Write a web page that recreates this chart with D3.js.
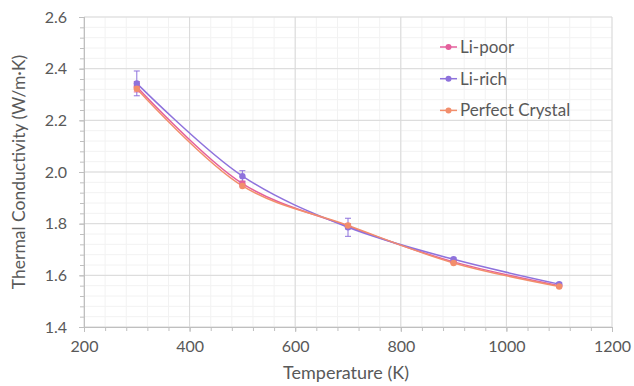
<!DOCTYPE html>
<html>
<head>
<meta charset="utf-8">
<script src="https://cdn.jsdelivr.net/npm/d3@7"></script>
<style>
  body { margin: 0; background: #fff; }
  text { font-family: Lato, Carlito, "Liberation Sans", Arial, sans-serif; fill: #595959; }
</style>
</head>
<body>
<div id="chart"></div>
<script>
// data
var temps = [300, 500, 700, 900, 1100];
var liPoor = [2.330, 1.955, 1.790, 1.652, 1.560];
var liRich = [2.343, 1.984, 1.786, 1.662, 1.566];
var perfect = [2.322, 1.946, 1.793, 1.648, 1.557];
var liPoorErr = [0.02, 0.01, 0.01, 0.004, 0.004];
var liRichErr = [0.048, 0.021, 0.035, 0.005, 0.005];
var perfectErr = [0, 0, 0, 0, 0];
var xTicks = [200, 400, 600, 800, 1000, 1200];
var yTicks = [1.4, 1.6, 1.8, 2.0, 2.2, 2.4, 2.6];

var series = [
  {name: "Li-poor", values: liPoor, err: liPoorErr, color: "#e45f9c"},
  {name: "Li-rich", values: liRich, err: liRichErr, color: "#8e72dc"},
  {name: "Perfect Crystal", values: perfect, err: perfectErr, color: "#f28e6c"}
];

var margin = {top: 17, right: 22, bottom: 59, left: 84},
    width = 634 - margin.left - margin.right,
    height = 386 - margin.top - margin.bottom;

var svg = d3.select("#chart").append("svg")
    .attr("width", 634)
    .attr("height", 386);

var g = svg.append("g")
    .attr("transform", "translate(" + margin.left + "," + margin.top + ")");

var x = d3.scaleLinear().domain([200, 1200]).range([0, width]);
var y = d3.scaleLinear().domain([1.4, 2.6]).range([height, 0]);

// minor grid
var xMinor = d3.range(200, 1201, 40);
var yMinor = d3.range(0, 31).map(function (i) { return 1.4 + i * 0.04; });
g.selectAll(".xminor").data(xMinor).enter().append("line")
    .attr("x1", d => x(d)).attr("x2", d => x(d))
    .attr("y1", 0).attr("y2", height)
    .attr("stroke", "#f2f2f2");
g.selectAll(".yminor").data(yMinor).enter().append("line")
    .attr("y1", d => y(d)).attr("y2", d => y(d))
    .attr("x1", 0).attr("x2", width)
    .attr("stroke", "#f2f2f2");
// major grid
g.selectAll(".xmajor").data(xTicks).enter().append("line")
    .attr("x1", d => x(d)).attr("x2", d => x(d))
    .attr("y1", 0).attr("y2", height)
    .attr("stroke", "#d9d9d9");
g.selectAll(".ymajor").data(yTicks).enter().append("line")
    .attr("y1", d => y(d)).attr("y2", d => y(d))
    .attr("x1", 0).attr("x2", width)
    .attr("stroke", "#d9d9d9");

// axes
var xAxis = g.append("g")
    .attr("transform", "translate(0," + height + ")")
    .call(d3.axisBottom(x).tickValues(xTicks).tickSize(5).tickPadding(9).tickFormat(d3.format("d")));
var xAxisMinor = g.append("g")
    .attr("transform", "translate(0," + height + ")")
    .call(d3.axisBottom(x).tickValues(xMinor).tickSize(4).tickFormat(""));
var yAxis = g.append("g")
    .call(d3.axisLeft(y).tickValues(yTicks).tickSize(5).tickPadding(12).tickFormat(d3.format(".1f")));
var yAxisMinor = g.append("g")
    .call(d3.axisLeft(y).tickValues(yMinor).tickSize(4).tickFormat(""));

[xAxis, xAxisMinor, yAxis, yAxisMinor].forEach(function (a) {
  a.select(".domain").attr("stroke", "#bfbfbf");
  a.selectAll(".tick line").attr("stroke", "#bfbfbf");
  a.selectAll("text").style("font-size", "16px").attr("fill", "#595959")
      .style("font-family", "Lato, Carlito, 'Liberation Sans', Arial, sans-serif");
});

// lines
var line = d3.line()
    .x(d => x(d[0]))
    .y(d => y(d[1]))
    .curve(d3.curveCatmullRom.alpha(0.5));

series.forEach(function (s) {
  var pts = temps.map(function (t, i) { return [t, s.values[i]]; });
  g.append("path")
      .datum(pts)
      .attr("fill", "none")
      .attr("stroke", s.color)
      .attr("stroke-width", 1.5)
      .attr("d", line);
});

// error bars and markers
series.forEach(function (s) {
  temps.forEach(function (t, i) {
    var e = s.err[i];
    if (e > 0) {
      var cx = x(t);
      g.append("line").attr("x1", cx).attr("x2", cx)
          .attr("y1", y(s.values[i] - e)).attr("y2", y(s.values[i] + e))
          .attr("stroke", s.color).attr("stroke-width", 1);
      [s.values[i] - e, s.values[i] + e].forEach(function (v) {
        g.append("line").attr("x1", cx - 3).attr("x2", cx + 3)
            .attr("y1", y(v)).attr("y2", y(v))
            .attr("stroke", s.color).attr("stroke-width", 1);
      });
    }
  });
});
series.forEach(function (s) {
  g.selectAll(null).data(temps).enter().append("circle")
      .attr("cx", d => x(d))
      .attr("cy", (d, i) => y(s.values[i]))
      .attr("r", 3.2)
      .attr("fill", s.color);
});

// legend
var legend = svg.append("g").attr("transform", "translate(440,47)");
series.forEach(function (s, i) {
  var row = legend.append("g").attr("transform", "translate(0," + (i * 31.7) + ")");
  row.append("line").attr("x1", 0).attr("x2", 17).attr("y1", 0).attr("y2", 0)
      .attr("stroke", s.color).attr("stroke-width", 1.5);
  row.append("circle").attr("cx", 8.5).attr("cy", 0).attr("r", 3).attr("fill", s.color);
  row.append("text").attr("x", 20).attr("y", 0).attr("dy", "0.35em")
      .style("font-size", "17px").text(s.name);
});

// axis titles
svg.append("text")
    .attr("x", 346)
    .attr("y", 379)
    .attr("text-anchor", "middle")
    .style("font-size", "18px")
    .text("Temperature (K)");
svg.append("text")
    .attr("transform", "translate(25," + 172 + ") rotate(-90)")
    .attr("text-anchor", "middle")
    .style("font-size", "17.5px")
    .text("Thermal Conductivity (W/m·K)");
</script>
</body>
</html>
